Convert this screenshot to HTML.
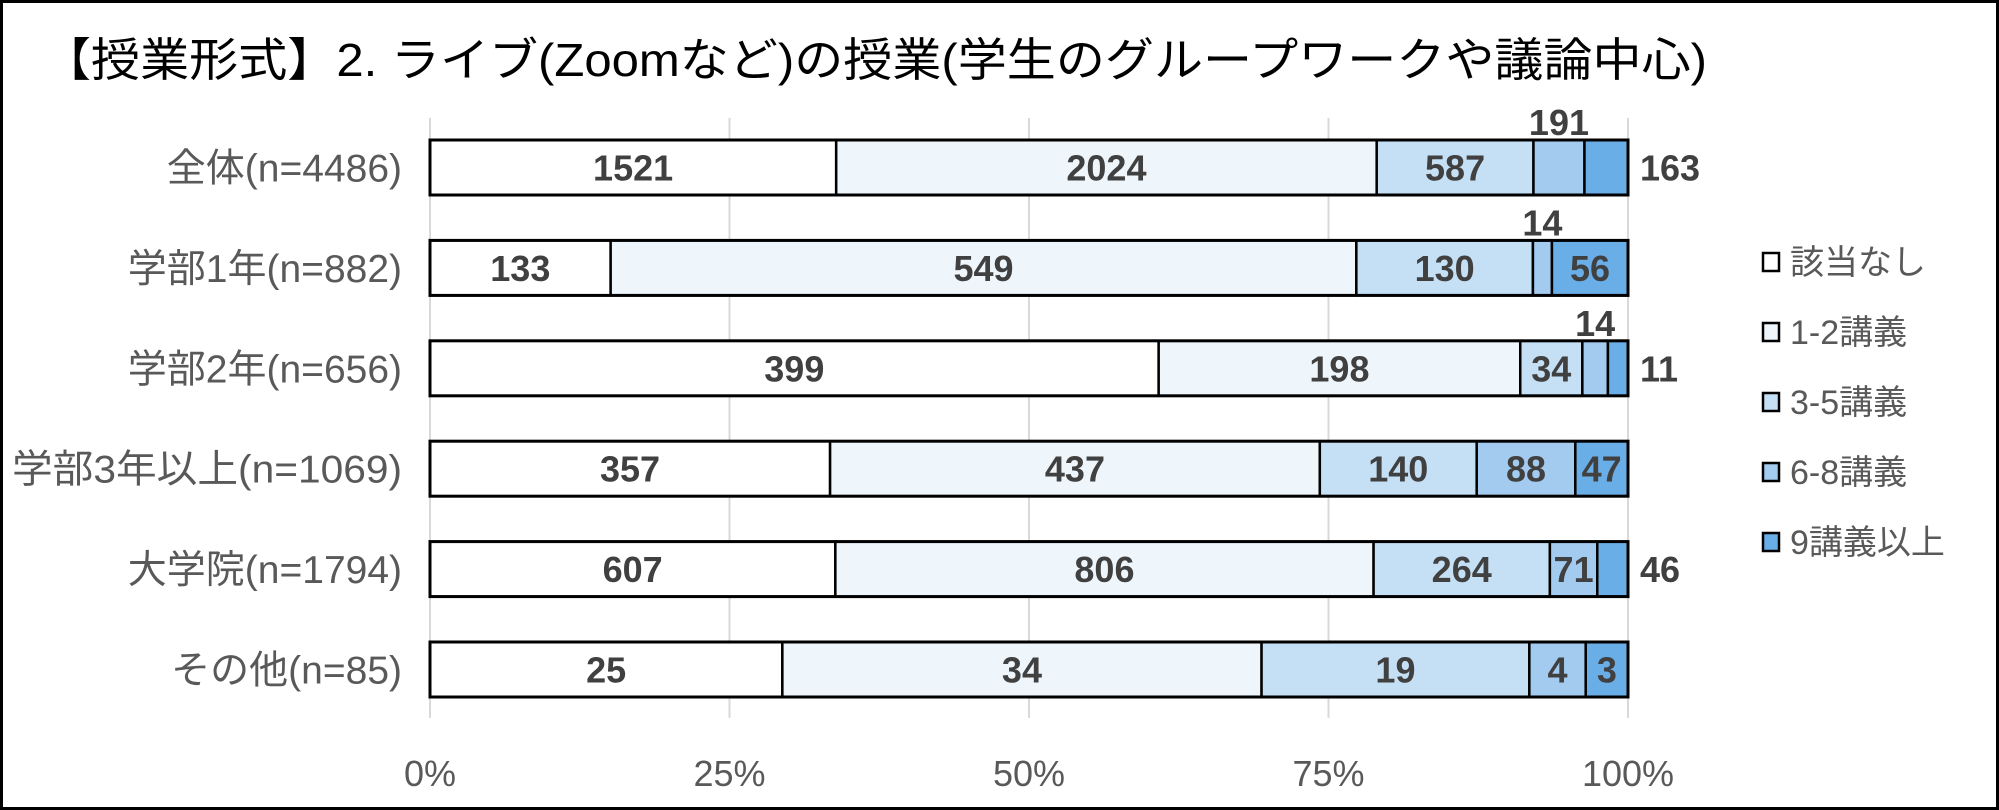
<!DOCTYPE html>
<html><head><meta charset="utf-8">
<style>
html,body{margin:0;padding:0;background:#fff;}
#c{width:1999px;height:810px;position:relative;overflow:hidden;}
svg text{font-family:"Liberation Sans","Noto Sans CJK JP",sans-serif;}
</style></head><body>
<div id="c"><svg id="s" width="1999" height="810" xmlns="http://www.w3.org/2000/svg"></svg></div>
<script>
const s=document.getElementById('s');
let h='';
h+='<rect x="1.5" y="1.5" width="1996" height="807" fill="#fff" stroke="#000" stroke-width="3"/>';
h+='<text x="42" y="76" font-size="46" fill="#000" textLength="1665" lengthAdjust="spacingAndGlyphs">【授業形式】2. ライブ(Zoomなど)の授業(学生のグループワークや議論中心)</text>';
const L=430,W=1198;
for(let i=0;i<=4;i++){const x=L+W*i/4;h+=`<line x1="${x}" y1="118" x2="${x}" y2="718" stroke="#d9d9d9" stroke-width="2"/>`;
h+=`<text x="${x}" y="786" font-size="36" fill="#595959" text-anchor="middle">${i*25}%</text>`;}
const cols=['#ffffff','#eef6fc','#c5dff5','#a3cbef','#6aaee8'];
const rows=[
['全体(n=4486)',[1521,2024,587,191,163],[1,1,1,'top','right']],
['学部1年(n=882)',[133,549,130,14,56],[1,1,1,'top',1]],
['学部2年(n=656)',[399,198,34,14,11],[1,1,1,'top','right']],
['学部3年以上(n=1069)',[357,437,140,88,47],[1,1,1,1,1]],
['大学院(n=1794)',[607,806,264,71,46],[1,1,1,1,'right']],
['その他(n=85)',[25,34,19,4,3],[1,1,1,1,1]]];
rows.forEach((r,i)=>{
 const top=140+i*100.4,bh=55,cy=top+bh/2;
 const tot=r[1].reduce((a,b)=>a+b,0);
 const extra=i===3?' textLength="390" lengthAdjust="spacingAndGlyphs"':'';
 h+=`<text x="402" y="${cy+14}" font-size="39" fill="#595959" text-anchor="end"${extra}>${r[0]}</text>`;
 let x=L;
 r[1].forEach((v,j)=>{
  const w=W*v/tot;
  h+=`<rect x="${x}" y="${top}" width="${w}" height="${bh}" fill="${cols[j]}" stroke="#000" stroke-width="2.5"/>`;
  const f=r[2][j];
  const st='font-size="36" font-weight="bold" fill="#404040"';
  if(f===1)h+=`<text x="${x+w/2}" y="${cy+13}" ${st} text-anchor="middle">${v}</text>`;
  else if(f==='top')h+=`<text x="${x+w/2}" y="${top-5}" ${st} text-anchor="middle">${v}</text>`;
  else if(f==='right')h+=`<text x="${L+W+12}" y="${cy+13}" ${st}>${v}</text>`;
  x+=w;
 });
 h+=`<rect x="${L}" y="${top}" width="${W}" height="${bh}" fill="none" stroke="#000" stroke-width="3"/>`;
});
const lg=['該当なし','1-2講義','3-5講義','6-8講義','9講義以上'];
lg.forEach((t,i)=>{const cy=262+i*70;
 h+=`<rect x="1763" y="${cy-9}" width="16" height="18" fill="${cols[i]}" stroke="#000" stroke-width="2.5"/>`;
 h+=`<text x="1790" y="${cy+12}" font-size="34" fill="#595959">${t}</text>`;});
s.innerHTML=h;
</script>
</body></html>
